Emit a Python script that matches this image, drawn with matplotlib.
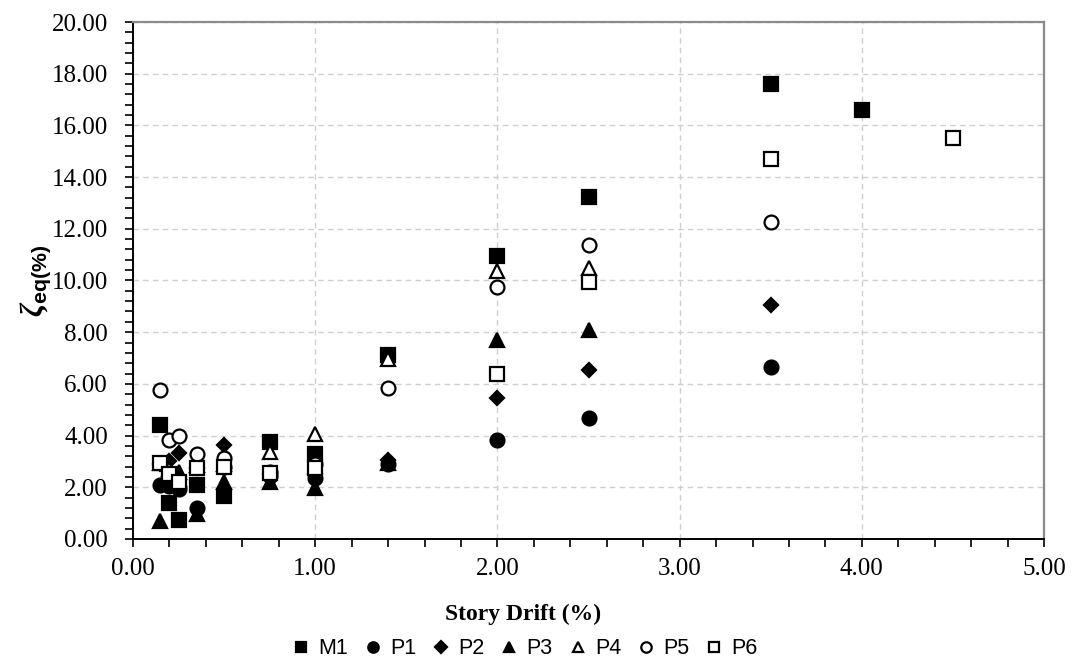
import matplotlib
matplotlib.use("Agg")
import matplotlib.pyplot as plt
from matplotlib.ticker import MultipleLocator, FormatStrFormatter
import numpy as np

plt.rcParams['font.family'] = ['Liberation Serif', 'DejaVu Serif']
plt.rcParams['mathtext.fontset'] = 'custom'
plt.rcParams['mathtext.it'] = 'Liberation Serif:italic:bold'
plt.rcParams['mathtext.rm'] = 'Liberation Serif:bold'
plt.rcParams['mathtext.bf'] = 'Liberation Sans:bold'

# story drift levels (%) and equivalent damping (%) for each specimen
drift_m1 = [0.15, 0.20, 0.25, 0.35, 0.50, 0.75, 1.00, 1.40, 2.00, 2.50, 3.50, 4.00]
zeta_m1 = [4.42, 1.40, 0.75, 2.07, 1.65, 3.75, 3.30, 7.10, 10.95, 13.22, 17.60, 16.60]

drift_p1 = [0.15, 0.20, 0.25, 0.35, 0.50, 0.75, 1.00, 1.40, 2.00, 2.50, 3.50]
zeta_p1 = [2.10, 2.05, 1.95, 1.20, 2.80, 2.45, 2.35, 2.88, 3.82, 4.68, 6.65]

drift_p2 = [0.15, 0.20, 0.25, 0.35, 0.50, 0.75, 1.00, 1.40, 2.00, 2.50, 3.50]
zeta_p2 = [2.90, 3.00, 3.32, 2.75, 3.62, 2.50, 2.50, 3.05, 5.45, 6.55, 9.05]

drift_p3 = [0.15, 0.20, 0.25, 0.35, 0.50, 0.75, 1.00, 1.40, 2.00, 2.50]
zeta_p3 = [0.70, 2.60, 2.60, 0.95, 2.20, 2.20, 1.98, 2.95, 7.70, 8.10]

drift_p4 = [0.15, 0.20, 0.25, 0.35, 0.50, 0.75, 1.00, 1.40, 2.00, 2.50]
zeta_p4 = [2.95, 2.70, 2.30, 2.85, 2.90, 3.35, 4.05, 6.95, 10.35, 10.48]

drift_p5 = [0.15, 0.20, 0.25, 0.35, 0.50, 0.75, 1.00, 1.40, 2.00, 2.50, 3.50]
zeta_p5 = [5.75, 3.84, 3.97, 3.29, 3.15, 2.60, 2.90, 5.85, 9.75, 11.37, 12.27]

drift_p6 = [0.15, 0.20, 0.25, 0.35, 0.50, 0.75, 1.00, 2.00, 2.50, 3.50, 4.50]
zeta_p6 = [2.93, 2.50, 2.20, 2.75, 2.80, 2.55, 2.75, 6.40, 9.93, 14.70, 15.50]

fig, ax = plt.subplots(figsize=(10.76, 6.67), dpi=100)
fig.subplots_adjust(left=0.1236, right=0.9703, top=0.967, bottom=0.192)

kw = dict(linestyle='none', markersize=10, markeredgecolor='black', markeredgewidth=1.6)
ax.plot(drift_m1, zeta_m1, marker='s', color='black', label='M1', **kw)
ax.plot(drift_p1, zeta_p1, marker='o', color='black', label='P1', **kw)
ax.plot(drift_p2, zeta_p2, marker='D', color='black', label='P2',
        linestyle='none', markersize=7.5, markeredgecolor='black', markeredgewidth=1.6)
ax.plot(drift_p3, zeta_p3, marker='^', color='black', label='P3', **kw)
ax.plot(drift_p4, zeta_p4, marker='^', color='black', markerfacecolor='white', label='P4', **kw)
ax.plot(drift_p5, zeta_p5, marker='o', color='black', markerfacecolor='white', label='P5', **kw)
ax.plot(drift_p6, zeta_p6, marker='s', color='black', markerfacecolor='white', label='P6', **kw)

ax.set_xlim(0, 5)
ax.set_ylim(0, 20)
ax.xaxis.set_major_locator(MultipleLocator(1))
ax.xaxis.set_minor_locator(MultipleLocator(0.2))
ax.yaxis.set_major_locator(MultipleLocator(2))
ax.yaxis.set_minor_locator(MultipleLocator(0.4))
ax.xaxis.set_major_formatter(FormatStrFormatter('%.2f'))
ax.yaxis.set_major_formatter(FormatStrFormatter('%.2f'))
ax.tick_params(which='both', direction='out', length=6, width=1.2, labelsize=18, color='black')
ax.tick_params(axis='y', pad=12)
ax.tick_params(axis='x', pad=8)
ax.tick_params(top=False, right=False, which='both')

ax.grid(True, which='major', linestyle=(0, (4, 3)), color='#cfcfcf', linewidth=1)
ax.set_axisbelow(True)

for side in ['left', 'bottom']:
    ax.spines[side].set_color('black')
    ax.spines[side].set_linewidth(1.4)
for side in ['top', 'right']:
    ax.spines[side].set_color('#8a8a8a')
    ax.spines[side].set_linewidth(1.6)

ax.set_xlabel('Story Drift (%)', fontsize=17, fontweight='bold')
ax.xaxis.set_label_coords(0.428, -0.125)
ax.set_ylabel(r'$\zeta_{\mathbf{eq(\%)}}$', fontsize=22)
ax.yaxis.set_label_coords(-0.088, 0.5)

fig.legend(loc='center', bbox_to_anchor=(0.488, 0.027), ncol=7, frameon=False,
           prop={'family': 'Liberation Sans', 'size': 15.5}, markerscale=0.75,
           handlelength=0.8, handletextpad=0.4, columnspacing=0.75)

fig.savefig('out.png', dpi=100)
